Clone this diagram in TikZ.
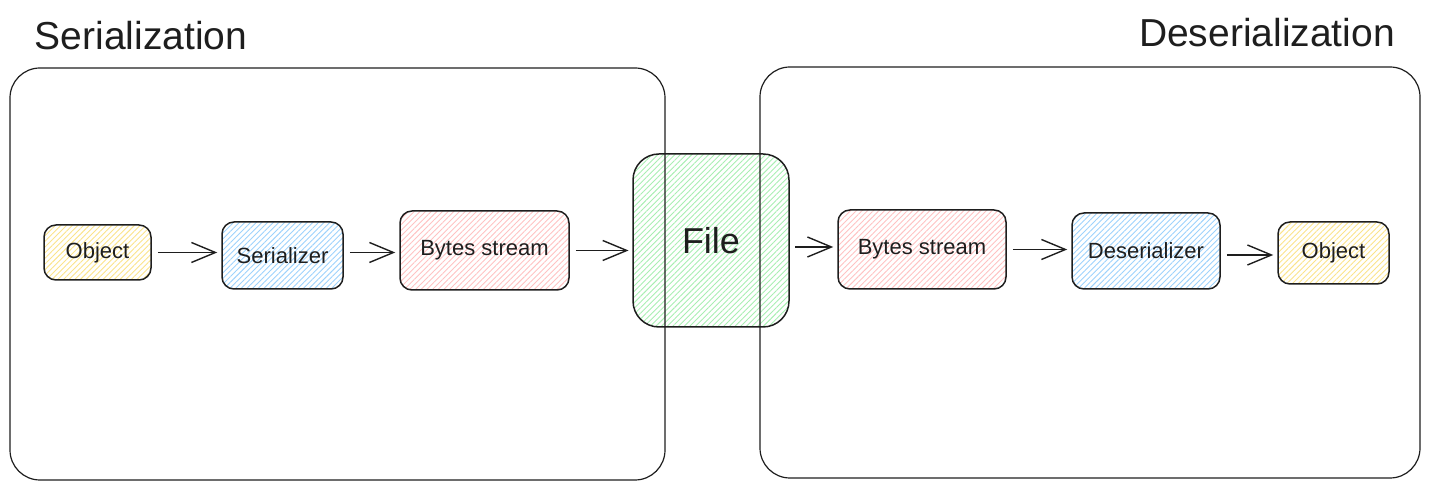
\documentclass[tikz,border=0pt]{standalone}
\usepackage{fontspec}
\setmainfont{Liberation Sans}
\usetikzlibrary{arrows.meta,patterns.meta}
\definecolor{inkc}{HTML}{1E1E1E}
\definecolor{hyel}{HTML}{FBE38A}
\definecolor{hblu}{HTML}{9DD2FC}
\definecolor{hred}{HTML}{FFC2C2}
\definecolor{hgrn}{HTML}{A8EEB2}
\tikzset{
  frame/.style={draw=inkc,line width=0.6pt,rounded corners=15pt,inner sep=0pt},
  boxc/.style={draw=inkc,line width=0.75pt,rounded corners=6pt,inner sep=0pt,
    font=\fontsize{11}{13}\selectfont,text=inkc,
    pattern={Lines[angle=45,distance=2pt,line width=0.45pt]},pattern color=#1},
  filebox/.style={draw=inkc,line width=0.75pt,rounded corners=13pt,inner sep=0pt,
    font=\fontsize{18}{20}\selectfont,text=inkc,
    pattern={Lines[angle=45,distance=2pt,line width=0.45pt]},pattern color=hgrn},
  titlec/.style={font=\fontsize{19.5}{22}\selectfont,text=inkc,inner sep=0pt},
  arr/.style={draw=inkc,line width=0.7pt,-{Straight Barb[length=12pt,width=10pt,line width=0.7pt]},shorten <=3pt,shorten >=2pt}
}
\begin{document}
\begin{tikzpicture}[x=0.5pt,y=-0.5pt]
\useasboundingbox (0,0) rectangle (1430,490);
\node[titlec] (t1) at (141,36) {Serialization};
\node[titlec] (t2) at (1267,33) {Deserialization};
\node[filebox,minimum width=78pt,minimum height=86.5pt] (file) at (711,240.5) {File};
\node[frame,minimum width=327.5pt,minimum height=206pt] (bigL) at (337.5,274) {};
\node[frame,minimum width=330pt,minimum height=205.5pt] (bigR) at (1090,272.5) {};
\node[boxc=hyel,minimum width=53.5pt,minimum height=27.5pt] (objL) at (97.5,252.5) {Object};
\node[boxc=hblu,minimum width=60.5pt,minimum height=33.5pt] (ser) at (282.5,255.5) {Serializer};
\node[boxc=hred,minimum width=84.5pt,minimum height=39.5pt] (bytL) at (484.5,250.5) {Bytes stream};
\node[boxc=hred,minimum width=84pt,minimum height=39.5pt] (bytR) at (922,249.5) {Bytes stream};
\node[boxc=hblu,minimum width=74pt,minimum height=38pt] (deser) at (1146,251) {Deserializer};
\node[boxc=hyel,minimum width=55.5pt,minimum height=31pt] (objR) at (1333.5,253) {Object};
\draw[arr] (objL.east) -- (objL.east -| ser.west);
\draw[arr] (ser.east |- objL.east) -- (ser.east |- objL.east -| bytL.west);
\draw[arr] (bytL.east) -- (bytL.east -| file.west);
\draw[arr] (file.east |- 0,247) -- (bytR.west |- 0,247);
\draw[arr] (bytR.east) -- (bytR.east -| deser.west);
\draw[arr] (deser.east |- 0,255) -- (objR.west |- 0,255);
\end{tikzpicture}
\end{document}
